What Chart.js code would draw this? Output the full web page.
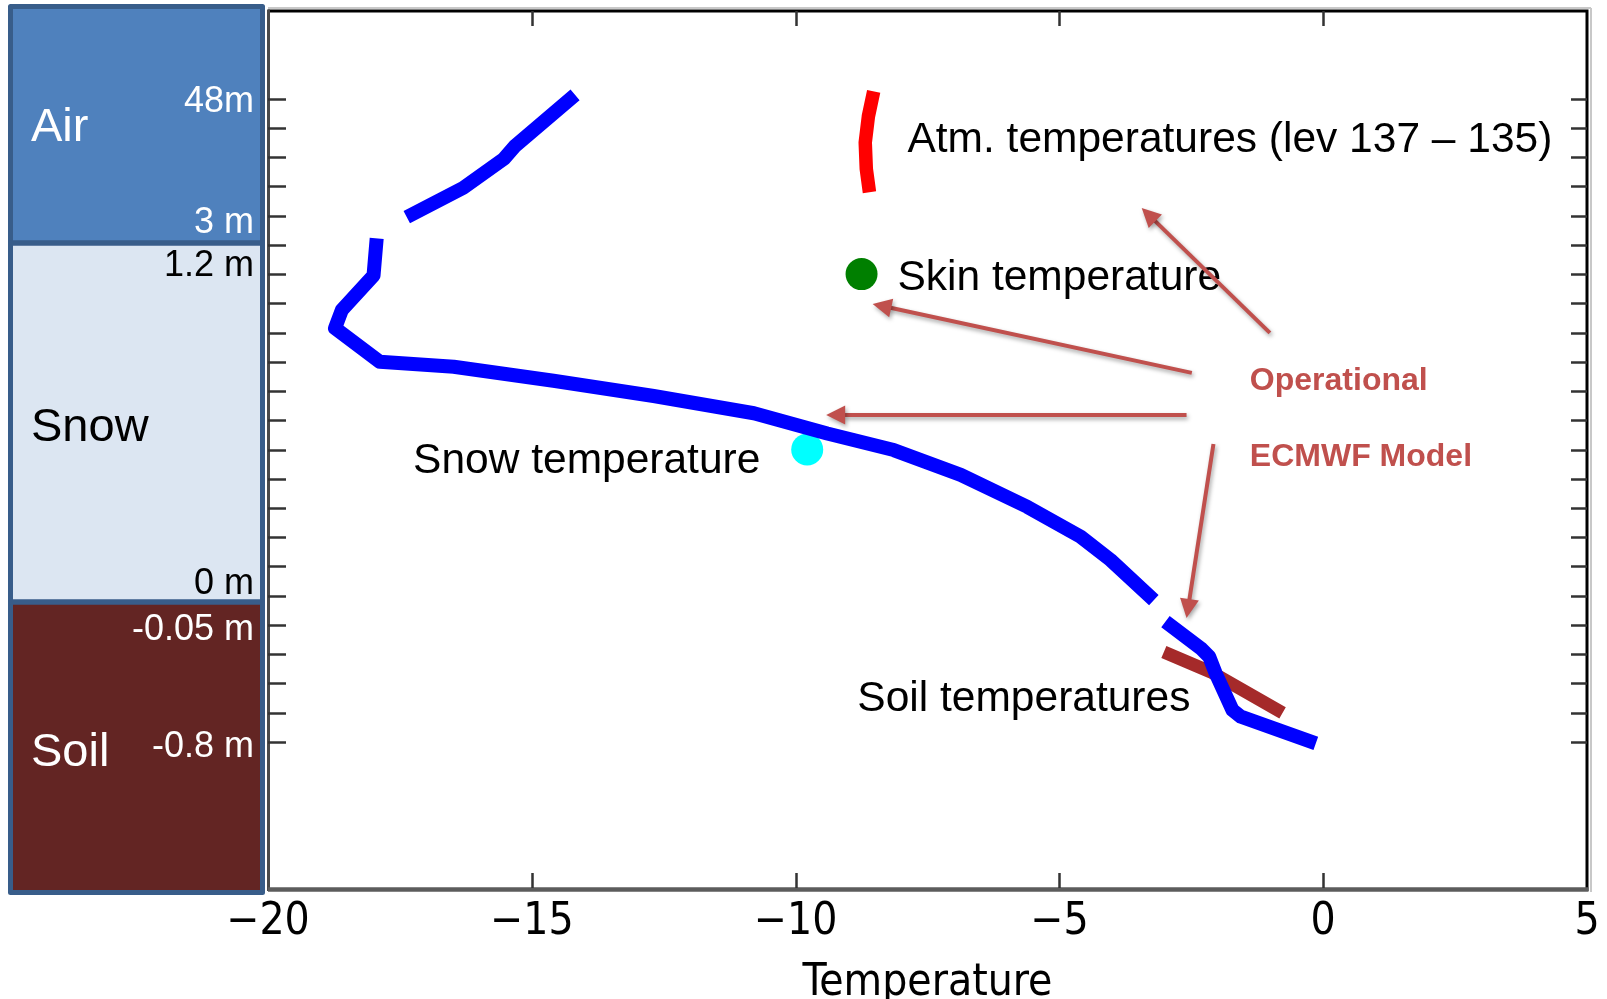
<!DOCTYPE html>
<html>
<head>
<meta charset="utf-8">
<title>Temperature profile: air, snow and soil</title>
<script src="https://cdn.jsdelivr.net/npm/chart.js@4.4.1/dist/chart.umd.min.js"></script>
<style>
  html, body { margin: 0; padding: 0; background: #ffffff; }
  #wrap { position: relative; width: 1607px; height: 999px; }
</style>
</head>
<body>
<div id="wrap"><canvas id="profile"></canvas></div>
<script>
// ---- Profile values: temperature (°C) against vertical level index ----
const airTemp    = [-17.37, -16.30, -15.53, -15.32, -14.18];
const airLevel   = [22.95, 23.95, 24.94, 25.38, 27.13];

const snowTemp   = [-17.94, -18.00, -18.60, -18.73, -17.88, -16.48, -14.59, -12.69, -10.79, -9.40, -8.14, -6.87, -5.61, -4.60, -4.03, -3.21];
const snowLevel  = [22.22, 20.95, 19.77, 19.15, 18.00, 17.83, 17.35, 16.83, 16.24, 15.55, 14.98, 14.13, 13.04, 12.02, 11.22, 9.85];

const soilTemp   = [-2.99, -2.32, -2.16, -2.04, -1.72, -1.56, -0.14];
const soilLevel  = [9.11, 8.20, 7.91, 7.35, 6.09, 5.86, 4.95];

const soilOpTemp  = [-3.02, -2.13, -0.77];
const soilOpLevel = [8.07, 7.39, 5.99];

const atmOpTemp  = [-8.52, -8.62, -8.68, -8.66, -8.60];
const atmOpLevel = [27.25, 26.40, 25.50, 24.60, 23.80];

const skinTemp   = [-8.75];
const skinLevel  = [21.0];

const snowPtTemp  = [-9.78];
const snowPtLevel = [15.0];

// Height / depth labels of the left-hand layer column and the levels they sit at
const depthLabels = ['48m', '3 m', '1.2 m', '0 m', '-0.05 m', '-0.8 m'];
const depthLevels = [27, 22.85, 21.4, 10.5, 8.95, 4.95];
const layerNames  = ['Air', 'Snow', 'Soil'];

// Temperature tick labels on the x axis
const tempTicks = [-20, -15, -10, -5, 0, 5];

const pts = (xs, ys) => xs.map((x, i) => ({ x: x, y: ys[i] }));

// ---- Styling / layout settings ----
const SANS = "'Liberation Sans', Arial, sans-serif";
const AXISFONT = "'DejaVu Sans Condensed', 'DejaVu Sans', sans-serif";
const depthColors = ['#ffffff', '#ffffff', '#000000', '#000000', '#ffffff', '#ffffff'];
const layerStyle = [
  { fill: '#4F81BD', text: '#ffffff', baseLevel: 25.54 },
  { fill: '#DCE6F2', text: '#000000', baseLevel: 15.29 },
  { fill: '#632523', text: '#ffffff', baseLevel: 4.17 }
];
const layerEdges = [22.06, 9.78];      // air/snow and snow/soil boundaries (level units)
const ANNOT = '#C0504D';

const notes = [
  { text: 'Atm. temperatures (lev 137 \u2013 135)', t: -7.88, lev: 25.19, font: '42.5px ' + SANS, color: '#000' },
  { text: 'Skin temperature',  t: -8.07,  lev: 20.46, font: '42.5px ' + SANS, color: '#000' },
  { text: 'Snow temperature',  t: -17.25, lev: 14.18, font: '42.5px ' + SANS, color: '#000' },
  { text: 'Soil temperatures', t: -8.83,  lev: 6.07,  font: '42.5px ' + SANS, color: '#000' },
  { text: 'Operational',       t: -1.39,  lev: 17.02, font: 'bold 32px ' + SANS, color: ANNOT },
  { text: 'ECMWF Model',       t: -1.39,  lev: 14.45, font: 'bold 32px ' + SANS, color: ANNOT }
];
const arrows = [
  { from: [-1.01, 18.99], to: [-3.44, 23.26] },
  { from: [-2.49, 17.62], to: [-8.54, 19.98] },
  { from: [-2.59, 16.18], to: [-9.42, 16.18] },
  { from: [-2.08, 15.19], to: [-2.59, 9.24] }
];

// Layer column on the left, boxed plot frame with inward ticks, and callouts
const decorations = {
  id: 'decorations',
  beforeDraw(chart) {
    const { ctx, chartArea: a, scales: { y } } = chart;
    const x0 = 10.5, x1 = 262.5;
    const yTop = a.top - 4.5, yBot = a.bottom + 4.5;
    const yA = y.getPixelForValue(layerEdges[0]);
    const yS = y.getPixelForValue(layerEdges[1]);
    const bands = [[yTop, yA], [yA, yS], [yS, yBot]];
    ctx.save();
    bands.forEach((b, i) => {
      ctx.fillStyle = layerStyle[i].fill;
      ctx.fillRect(x0, b[0], x1 - x0, b[1] - b[0]);
    });
    ctx.strokeStyle = '#385D8A';
    ctx.lineWidth = 5;
    ctx.lineJoin = 'round';
    bands.forEach(b => ctx.strokeRect(x0, b[0], x1 - x0, b[1] - b[0]));

    // layer names
    ctx.textAlign = 'left';
    ctx.textBaseline = 'alphabetic';
    ctx.font = '47px ' + SANS;
    layerNames.forEach((name, i) => {
      ctx.fillStyle = layerStyle[i].text;
      ctx.fillText(name, 31, y.getPixelForValue(layerStyle[i].baseLevel));
    });
    // height / depth labels
    ctx.textAlign = 'right';
    ctx.textBaseline = 'middle';
    ctx.font = '36px ' + SANS;
    depthLabels.forEach((lab, i) => {
      ctx.fillStyle = depthColors[i];
      ctx.fillText(lab, 254, y.getPixelForValue(depthLevels[i]) + 3.5);
    });
    ctx.restore();
  },
  afterDraw(chart) {
    const { ctx, chartArea: a, scales: { x, y } } = chart;
    ctx.save();
    // faint outer edges
    ctx.strokeStyle = '#c8c8c8';
    ctx.lineWidth = 2;
    ctx.beginPath();
    ctx.moveTo(a.left, a.top - 3); ctx.lineTo(a.right + 4, a.top - 3);
    ctx.moveTo(a.right + 4, a.top - 3); ctx.lineTo(a.right + 4, a.bottom + 4);
    ctx.stroke();
    // frame
    ctx.lineCap = 'butt';
    ctx.strokeStyle = '#000';
    ctx.lineWidth = 3;
    ctx.beginPath();
    ctx.moveTo(a.left, a.top); ctx.lineTo(a.right + 1.5, a.top);
    ctx.moveTo(a.right, a.top); ctx.lineTo(a.right, a.bottom + 3);
    ctx.stroke();
    ctx.strokeStyle = '#4a4a4a';
    ctx.beginPath();
    ctx.moveTo(a.left + 0.5, a.top - 1.5); ctx.lineTo(a.left + 0.5, a.bottom + 3);
    ctx.stroke();
    ctx.strokeStyle = '#5c5c5c';
    ctx.lineWidth = 4.5;
    ctx.beginPath();
    ctx.moveTo(a.left, a.bottom + 1.5); ctx.lineTo(a.right + 1.5, a.bottom + 1.5);
    ctx.stroke();

    // inward tick marks
    ctx.strokeStyle = '#333';
    ctx.lineWidth = 2.5;
    ctx.beginPath();
    for (let lev = 5; lev <= 27; lev++) {
      const py = Math.round(y.getPixelForValue(lev)) + 0.5;
      ctx.moveTo(a.left, py); ctx.lineTo(a.left + 18, py);
      ctx.moveTo(a.right, py); ctx.lineTo(a.right - 16, py);
    }
    [-15, -10, -5, 0].forEach(v => {
      const px = Math.round(x.getPixelForValue(v)) + 0.5;
      ctx.moveTo(px, a.top); ctx.lineTo(px, a.top + 15);
      ctx.moveTo(px, a.bottom); ctx.lineTo(px, a.bottom - 15);
    });
    ctx.stroke();

    // callout texts
    ctx.textAlign = 'left';
    ctx.textBaseline = 'alphabetic';
    notes.forEach(n => {
      ctx.font = n.font;
      ctx.fillStyle = n.color;
      ctx.fillText(n.text, x.getPixelForValue(n.t), y.getPixelForValue(n.lev));
    });

    // arrows with soft drop shadow
    ctx.shadowColor = 'rgba(0,0,0,0.35)';
    ctx.shadowBlur = 4;
    ctx.shadowOffsetX = 1.5;
    ctx.shadowOffsetY = 2.5;
    ctx.strokeStyle = ANNOT;
    ctx.fillStyle = ANNOT;
    ctx.lineWidth = 4;
    arrows.forEach(ar => {
      const tx = x.getPixelForValue(ar.from[0]), ty = y.getPixelForValue(ar.from[1]);
      const hx = x.getPixelForValue(ar.to[0]), hy = y.getPixelForValue(ar.to[1]);
      const ang = Math.atan2(hy - ty, hx - tx);
      const c = Math.cos(ang), s = Math.sin(ang);
      const hl = 19, hw = 9.5;
      const bx = hx - hl * c, by = hy - hl * s;
      ctx.beginPath();
      ctx.moveTo(tx, ty); ctx.lineTo(bx + 2 * c, by + 2 * s);
      ctx.stroke();
      ctx.beginPath();
      ctx.moveTo(hx, hy);
      ctx.lineTo(bx + hw * s, by - hw * c);
      ctx.lineTo(bx - hw * s, by + hw * c);
      ctx.closePath();
      ctx.fill();
    });
    ctx.restore();
  }
};

const lineSet = (data, color, width) => ({
  data: data,
  showLine: true,
  borderColor: color,
  backgroundColor: color,
  borderWidth: width,
  pointRadius: 0,
  pointHoverRadius: 0,
  tension: 0,
  borderCapStyle: 'butt',
  borderJoinStyle: 'round',
  clip: false
});
const dotSet = (data, color) => ({
  data: data,
  showLine: false,
  backgroundColor: color,
  borderColor: color,
  borderWidth: 0,
  pointRadius: 16,
  pointHoverRadius: 16,
  clip: false
});

new Chart(document.getElementById('profile'), {
  type: 'scatter',
  data: {
    datasets: [
      Object.assign(lineSet(pts(airTemp, airLevel), '#0000FF', 14), { label: 'Air' }),
      Object.assign(lineSet(pts(snowTemp, snowLevel), '#0000FF', 14), { label: 'Snow' }),
      Object.assign(lineSet(pts(soilTemp, soilLevel), '#0000FF', 14), { label: 'Soil' }),
      Object.assign(lineSet(pts(soilOpTemp, soilOpLevel), '#A52A2A', 13), { label: 'Soil temperatures' }),
      Object.assign(lineSet(pts(atmOpTemp, atmOpLevel), '#FF0000', 13.5), { label: 'Atm. temperatures' }),
      Object.assign(dotSet(pts(skinTemp, skinLevel), '#007F00'), { label: 'Skin temperature' }),
      Object.assign(dotSet(pts(snowPtTemp, snowPtLevel), '#00FFFF'), { label: 'Snow temperature' })
    ]
  },
  options: {
    responsive: true,
    maintainAspectRatio: false,
    animation: false,
    events: [],
    layout: { autoPadding: false, padding: { left: 268, right: 20, top: 11, bottom: 0 } },
    plugins: { legend: { display: false }, tooltip: { enabled: false } },
    scales: {
      x: {
        type: 'linear',
        min: tempTicks[0],
        max: tempTicks[tempTicks.length - 1],
        afterBuildTicks(scale) { scale.ticks = tempTicks.map(v => ({ value: v })); },
        afterFit(scale) {
          scale.height = 111;
          scale.paddingLeft = 0;
          scale.paddingRight = 0;
        },
        grid: { display: false, drawTicks: false },
        border: { display: false },
        ticks: {
          padding: 13,
          color: '#000',
          maxRotation: 0,
          font: { family: AXISFONT, size: 44, lineHeight: 1 },
          callback: v => (v < 0 ? '\u2212' + Math.abs(v) : String(v))
        },
        title: {
          display: true,
          text: 'Temperature',
          color: '#000',
          padding: { top: 0, bottom: 0 },
          font: { family: AXISFONT, size: 44, lineHeight: 0.68 }
        }
      },
      y: { type: 'linear', min: 0, max: 30, display: false }
    }
  },
  plugins: [decorations]
});
</script>
</body>
</html>
